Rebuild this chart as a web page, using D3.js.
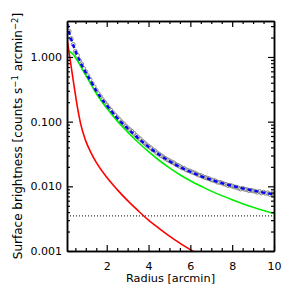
<!DOCTYPE html>
<html>
<head>
<meta charset="utf-8">
<script src="https://cdn.jsdelivr.net/npm/d3@7"></script>
<style>
  body { margin: 0; background: #fff; }
  svg { display: block; font-family: "DejaVu Sans", sans-serif; }
</style>
</head>
<body>
<div id="chart"></div>
<script>
// model grid radius [arcmin]
const modelRadius = [0.1, 0.2, 0.3, 0.4, 0.5, 0.6, 0.75, 1.0, 1.25, 1.5, 2.0, 2.5, 3.0, 3.5, 4.0,
                     4.5, 5.0, 5.5, 6.0, 6.5, 7.0, 7.5, 8.0, 8.5, 9.0, 9.5, 10.0];
// extended component (green)
const greenModel = [1.28, 1.24, 1.17, 1.09, 0.98, 0.88, 0.72, 0.52, 0.38, 0.275, 0.162, 0.102, 0.069, 0.048, 0.0343,
                    0.0253, 0.0193, 0.0151, 0.0122, 0.0101, 0.00843, 0.00718, 0.0062, 0.0054, 0.00476, 0.00424, 0.0038];
// compact component (red)
const redModel = [1.95, 1.17, 0.71, 0.43, 0.263, 0.166, 0.093, 0.050, 0.033, 0.0234, 0.0138, 0.0089, 0.0060, 0.0042, 0.0030,
                  0.00224, 0.0017, 0.00132, 0.00105, 0.00083, 0.00068, 0.00055, 0.00046, 0.00038, 0.00032, 0.000275, 0.000234];
// total model (blue dashed)
const totalModel = [3.23, 2.41, 1.88, 1.52, 1.245, 1.05, 0.816, 0.573, 0.416, 0.30, 0.179, 0.114, 0.0785, 0.0557, 0.0408,
                    0.031, 0.0245, 0.0199, 0.0168, 0.0144, 0.0126, 0.0112, 0.0102, 0.0093, 0.0086, 0.0080, 0.0075];
// background level (dotted)
const background = 0.0035;

// observed profile (grey circles)
const dataRadius = [0.1, 0.2, 0.3, 0.4, 0.5, 0.6, 0.7, 0.8, 0.9, 1.0, 1.1, 1.2, 1.3, 1.4, 1.5, 1.6, 1.7, 1.8, 1.9, 2.0,
  2.1, 2.2, 2.3, 2.4, 2.5, 2.6, 2.7, 2.8, 2.9, 3.0, 3.1, 3.2, 3.3, 3.4, 3.5, 3.6, 3.7, 3.8, 3.9, 4.0,
  4.1, 4.2, 4.3, 4.4, 4.5, 4.6, 4.7, 4.8, 4.9, 5.0, 5.1, 5.2, 5.3, 5.4, 5.5, 5.6, 5.7, 5.8, 5.9, 6.0,
  6.1, 6.2, 6.3, 6.4, 6.5, 6.6, 6.7, 6.8, 6.9, 7.0, 7.1, 7.2, 7.3, 7.4, 7.5, 7.6, 7.7, 7.8, 7.9, 8.0,
  8.1, 8.2, 8.3, 8.4, 8.5, 8.6, 8.7, 8.8, 8.9, 9.0, 9.1, 9.2, 9.3, 9.4, 9.5, 9.6, 9.7, 9.8, 9.9, 10.0];
const dataValue = [3.05, 2.50, 1.92, 1.56, 1.22, 1.06, 0.88, 0.78, 0.66, 0.59, 0.51, 0.45, 0.39, 0.345, 0.305, 0.270, 0.245, 0.218, 0.198, 0.181,
  0.163, 0.150, 0.136, 0.126, 0.116, 0.108, 0.099, 0.093, 0.086, 0.080, 0.075, 0.071, 0.066, 0.061, 0.057, 0.054, 0.050, 0.047, 0.0440, 0.0415,
  0.0395, 0.0368, 0.0355, 0.0328, 0.0315, 0.0298, 0.0285, 0.0270, 0.0258, 0.0249, 0.0238, 0.0231, 0.0218, 0.0211, 0.0203, 0.0193, 0.0190, 0.0180, 0.0175, 0.0171,
  0.0165, 0.0161, 0.0155, 0.0149, 0.0147, 0.0141, 0.0137, 0.0134, 0.0131, 0.0126, 0.0124, 0.0121, 0.0116, 0.0115, 0.0113, 0.0109, 0.0107, 0.0103, 0.0104, 0.0101,
  0.0098, 0.0097, 0.0094, 0.0091, 0.0093, 0.0090, 0.0089, 0.0086, 0.0087, 0.0085, 0.0084, 0.0081, 0.0083, 0.0079, 0.0081, 0.0078, 0.0079, 0.0075, 0.0077, 0.0073];

const xMajor = [2, 4, 6, 8, 10];
const xMinor = [0.5, 1, 1.5, 2.5, 3, 3.5, 4.5, 5, 5.5, 6.5, 7, 7.5, 8.5, 9, 9.5];
const yMajor = [0.001, 0.01, 0.1, 1];
const yLabels = ['0.001', '0.010', '0.100', '1.000'];

const width = 294, height = 294;
const margin = {top: 21, right: 20, bottom: 43, left: 67};
const innerW = width - margin.left - margin.right,
      innerH = height - margin.top - margin.bottom;

const x = d3.scaleLinear([0.1, 10], [0, innerW]);
const y = d3.scaleLog([0.001, 3.6], [innerH, 0]);

const yMinor = [];
yMajor.forEach(d => { for (let k = 2; k <= 9; k++) if (d * k <= 3.6) yMinor.push(d * k); });

const svg = d3.select('#chart').append('svg')
    .attr('width', width)
    .attr('height', height);

const g = svg.append('g').attr('transform', `translate(${margin.left},${margin.top})`);

g.append('clipPath').attr('id', 'clip')
  .append('rect').attr('width', innerW).attr('height', innerH);

const plot = g.append('g').attr('clip-path', 'url(#clip)');

const line = d3.line().x(d => x(d[0])).y(d => y(d[1])).curve(d3.curveMonotoneX);

// background level
plot.append('line')
    .attr('x1', 0).attr('x2', innerW)
    .attr('y1', y(background)).attr('y2', y(background))
    .attr('stroke', '#333').attr('stroke-width', 1.2)
    .attr('stroke-dasharray', '1,2');

// data points
plot.selectAll('circle.pt')
  .data(dataRadius.map((r, i) => [r, dataValue[i]]))
  .join('circle')
    .attr('class', 'pt')
    .attr('cx', d => x(d[0]))
    .attr('cy', d => y(d[1]))
    .attr('r', 2)
    .attr('fill', 'none')
    .attr('stroke', '#8a8a8a')
    .attr('stroke-width', 1);

// components
plot.append('path')
    .datum(modelRadius.map((r, i) => [r, greenModel[i]]))
    .attr('d', line).attr('fill', 'none')
    .attr('stroke', '#00ee00').attr('stroke-width', 1.6);

plot.append('path')
    .datum(modelRadius.map((r, i) => [r, redModel[i]]))
    .attr('d', line).attr('fill', 'none')
    .attr('stroke', '#ff0000').attr('stroke-width', 1.6);

plot.append('path')
    .datum(modelRadius.map((r, i) => [r, totalModel[i]]))
    .attr('d', line).attr('fill', 'none')
    .attr('stroke', '#0000ff').attr('stroke-width', 2.4)
    .attr('stroke-dasharray', '4,3');

// axes, IDL style: box with inward ticks on all sides
const axisStyle = sel => {
  sel.select('.domain').attr('stroke', '#000').attr('stroke-width', 1.5);
  sel.selectAll('.tick line').attr('stroke', '#000').attr('stroke-width', 1.2);
  sel.selectAll('.tick text').attr('fill', '#000').attr('font-size', 11)
     .attr('font-family', '"DejaVu Sans", sans-serif');
};

g.append('g').attr('transform', `translate(0,${innerH})`)
  .call(d3.axisBottom(x).tickValues(xMajor).tickFormat(d3.format('d')).tickSize(-6).tickSizeOuter(0).tickPadding(11))
  .call(axisStyle);
g.append('g').attr('transform', `translate(0,${innerH})`)
  .call(d3.axisBottom(x).tickValues(xMinor).tickFormat('').tickSize(-3).tickSizeOuter(0)).call(axisStyle);

g.append('g')
  .call(d3.axisTop(x).tickValues(xMajor).tickFormat('').tickSize(-6).tickSizeOuter(0)).call(axisStyle);
g.append('g')
  .call(d3.axisTop(x).tickValues(xMinor).tickFormat('').tickSize(-3).tickSizeOuter(0)).call(axisStyle);

g.append('g')
  .call(d3.axisLeft(y).tickValues(yMajor).tickFormat((d, i) => yLabels[i]).tickSize(-6).tickSizeOuter(0).tickPadding(5))
  .call(axisStyle);
g.append('g')
  .call(d3.axisLeft(y).tickValues(yMinor).tickFormat('').tickSize(-3).tickSizeOuter(0)).call(axisStyle);

g.append('g').attr('transform', `translate(${innerW},0)`)
  .call(d3.axisRight(y).tickValues(yMajor).tickFormat('').tickSize(-6).tickSizeOuter(0)).call(axisStyle);
g.append('g').attr('transform', `translate(${innerW},0)`)
  .call(d3.axisRight(y).tickValues(yMinor).tickFormat('').tickSize(-3).tickSizeOuter(0)).call(axisStyle);

// axis labels
svg.append('text')
    .attr('x', margin.left + innerW / 2)
    .attr('y', 282)
    .attr('text-anchor', 'middle')
    .attr('font-size', 11.3)
    .text('Radius [arcmin]');

const yl = svg.append('text')
    .attr('transform', `translate(22,${margin.top + innerH / 2})rotate(-90)`)
    .attr('text-anchor', 'middle')
    .attr('font-size', 12);
yl.append('tspan').text('Surface brightness [counts s');
yl.append('tspan').attr('dy', -4).attr('font-size', 8.5).text('\u22121');
yl.append('tspan').attr('dy', 4).text(' arcmin');
yl.append('tspan').attr('dy', -4).attr('font-size', 8.5).text('\u22122');
yl.append('tspan').attr('dy', 4).text(']');
</script>
</body>
</html>
